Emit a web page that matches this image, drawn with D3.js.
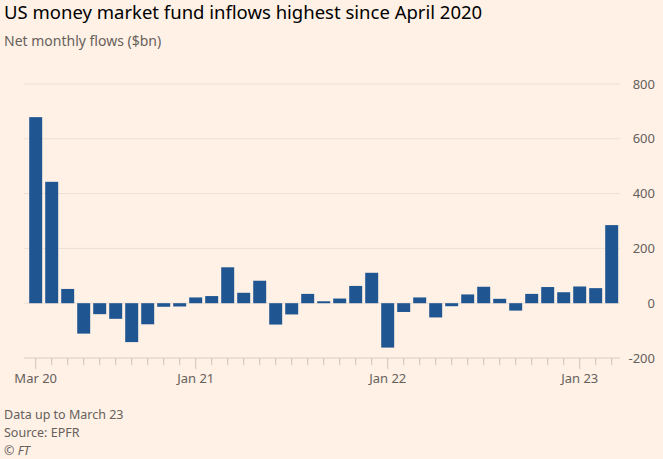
<!DOCTYPE html>
<html>
<head>
<meta charset="utf-8">
<script src="https://cdn.jsdelivr.net/npm/d3@7"></script>
<style>
  body { margin: 0; background: #fff1e5; }
  text { font-family: "Noto Sans", sans-serif; }
</style>
</head>
<body>
<div id="chart"></div>
<script>
  const width = 663;
  const height = 459;

  // Monthly net flows, Mar 2020 to Mar 2023 ($bn)
  const months = [
    "2020-03", "2020-04", "2020-05", "2020-06", "2020-07", "2020-08", "2020-09", "2020-10", "2020-11", "2020-12",
    "2021-01", "2021-02", "2021-03", "2021-04", "2021-05", "2021-06", "2021-07", "2021-08", "2021-09", "2021-10", "2021-11", "2021-12",
    "2022-01", "2022-02", "2022-03", "2022-04", "2022-05", "2022-06", "2022-07", "2022-08", "2022-09", "2022-10", "2022-11", "2022-12",
    "2023-01", "2023-02", "2023-03"
  ];
  const flows = [
    679, 443, 52, -111, -40, -57, -142, -77, -13, -12,
    21, 26, 131, 38, 82, -78, -41, 34, 7, 17, 63, 111,
    -162, -32, 21, -52, -11, 32, 60, 16, -27, 34, 59, 40,
    61, 55, 285
  ];
  const xLabels = { "2020-03": "Mar 20", "2021-01": "Jan 21", "2022-01": "Jan 22", "2023-01": "Jan 23" };
  const yTicks = [-200, 0, 200, 400, 600, 800];

  const data = months.map((m, i) => ({ month: m, value: flows[i] }));

  const svg = d3.select("#chart")
    .append("svg")
    .attr("width", width)
    .attr("height", height);

  svg.append("rect")
    .attr("width", width)
    .attr("height", height)
    .attr("fill", "#fff1e5");

  const x = d3.scaleBand()
    .domain(months)
    .range([27.7, 619.7])
    .paddingInner(0.19)
    .paddingOuter(0.095);

  const y = d3.scaleLinear()
    .domain([-200, 800])
    .range([358, 84]);

  // gridlines
  svg.append("g")
    .selectAll("line")
    .data(yTicks)
    .join("line")
    .attr("x1", 24)
    .attr("x2", 620)
    .attr("y1", d => y(d))
    .attr("y2", d => y(d))
    .attr("stroke", d => d === -200 ? "#d9cdc3" : "#ebdfd5")
    .attr("stroke-width", 1);

  // y labels
  svg.append("g")
    .selectAll("text")
    .data(yTicks)
    .join("text")
    .attr("x", 655)
    .attr("y", d => y(d))
    .attr("dy", "0.35em")
    .attr("text-anchor", "end")
    .style("font-size", "13px")
    .attr("fill", "#66605c")
    .text(d => d);

  // bars
  svg.append("g")
    .selectAll("rect")
    .data(data)
    .join("rect")
    .attr("x", d => x(d.month))
    .attr("y", d => y(Math.max(0, d.value)))
    .attr("width", x.bandwidth())
    .attr("height", d => Math.abs(y(d.value) - y(0)))
    .attr("fill", "#1f5591");

  // x axis
  const xAxis = svg.append("g")
    .attr("transform", `translate(0,${y(-200)})`)
    .call(d3.axisBottom(x).tickSize(7).tickFormat(d => xLabels[d] || ""));

  xAxis.select(".domain").remove();
  xAxis.selectAll(".tick line")
    .attr("stroke", "#cfc3b9")
    .attr("y2", d => xLabels[d] ? 11 : 7);
  xAxis.selectAll(".tick text")
    .attr("y", 16)
    .attr("fill", "#66605c")
    .style("font-size", "13px")
    .style("font-family", "'Noto Sans', sans-serif");

  // title & subtitle
  svg.append("text")
    .attr("x", 4)
    .attr("y", 19)
    .style("font-size", "18.5px")
    .attr("fill", "#000")
    .text("US money market fund inflows highest since April 2020");

  svg.append("text")
    .attr("x", 4)
    .attr("y", 46)
    .style("font-size", "14px")
    .attr("fill", "#66605c")
    .text("Net monthly flows ($bn)");

  // footer
  const footer = ["Data up to March 23", "Source: EPFR"];
  svg.append("g")
    .selectAll("text")
    .data(footer)
    .join("text")
    .attr("x", 4)
    .attr("y", (d, i) => 419 + i * 18)
    .style("font-size", "12.5px")
    .attr("fill", "#66605c")
    .text(d => d);

  svg.append("text")
    .attr("x", 4)
    .attr("y", 455)
    .style("font-size", "12.5px")
    .style("font-style", "italic")
    .attr("fill", "#66605c")
    .text("© FT");
</script>
</body>
</html>
